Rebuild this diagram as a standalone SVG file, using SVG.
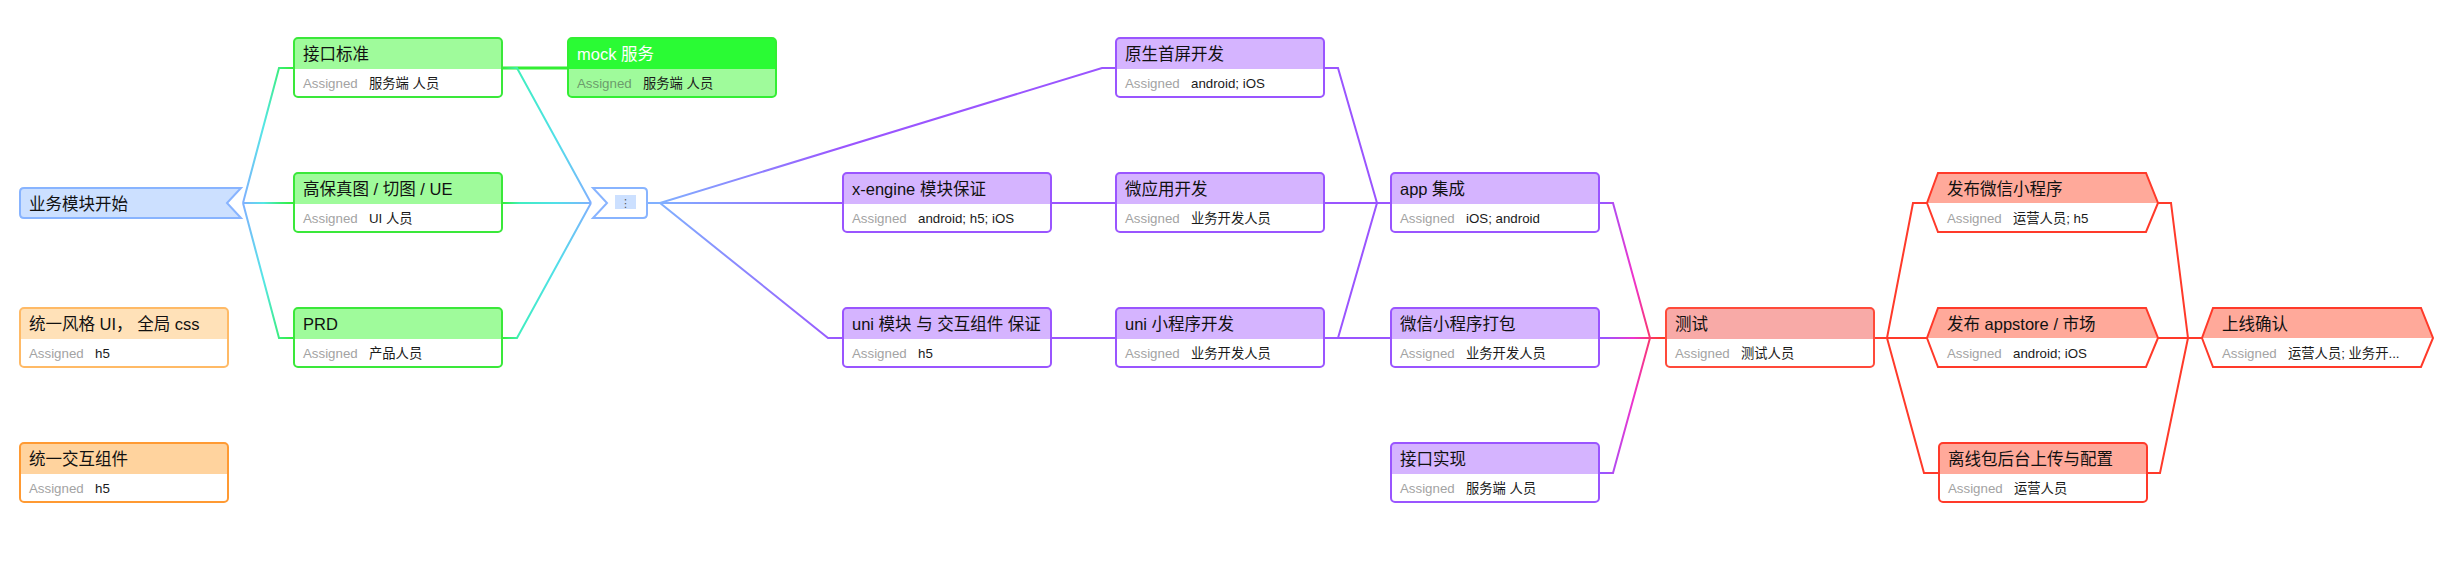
<svg xmlns="http://www.w3.org/2000/svg" xmlns:xlink="http://www.w3.org/1999/xlink" width="2464" height="574" viewBox="0 0 2464 574">
<style>
.t,.a,.v{font-family:"Liberation Sans","Noto Sans CJK SC",sans-serif}
.t{font-size:16.5px;fill:#111}
.a{font-size:13.3px;fill:#a3a3a3}
.v{font-size:13.3px;fill:#1a1a1a}
.bg{fill:#fff}
.ol{fill:none;stroke-width:2}
.green .hd{fill:#9ffb9b}.green .ol{stroke:#3ae83a}
.mock .hd{fill:#2afb34}.mock .bg{fill:#9ffb9b}.mock .ol{stroke:#33ee33}.mock .t{fill:#fff}.mock .a{fill:#6c9c6c}
.purple .hd{fill:#d5b4ff}.purple .ol{stroke:#9a55ff}
.red .hd{fill:#ffa99a}.red .ol{stroke:#ff3a2a}
.test .hd{fill:#f8aaa7}.test .ol{stroke:#ff4a3a}
.orange1 .hd{fill:#ffe1b8}.orange1 .ol{stroke:#ffba66}
.orange2 .hd{fill:#ffd39e}.orange2 .ol{stroke:#ff9a33}
.blue{fill:#cce0ff;stroke:#88b4ff;stroke-width:2}
#connectors path{fill:none;stroke-width:2}
.cp{stroke:#9a55ff}.cr{stroke:#ff3a2a}
</style>
<defs>
<rect id="box" width="208" height="59" rx="4"/>
<path id="hdr" d="M0,31V4Q0,0 4,0H204Q208,0 208,4V31Z"/>
<polygon id="hex" points="11,0 219,0 231,30 219,59 11,59 0,30"/>
<polygon id="hexhd" points="11,0 219,0 231,30 0,30"/>
<linearGradient id="gA" gradientUnits="userSpaceOnUse" x1="243" y1="0" x2="294" y2="0">
<stop offset="0" stop-color="#80b0ff"/><stop offset="0.4" stop-color="#55e6e6"/><stop offset="0.75" stop-color="#38ee70"/><stop offset="1" stop-color="#33ee33"/>
</linearGradient>
<linearGradient id="gB" gradientUnits="userSpaceOnUse" x1="502" y1="0" x2="591" y2="0">
<stop offset="0" stop-color="#33ee33"/><stop offset="0.2" stop-color="#40eec0"/><stop offset="0.6" stop-color="#50e0e8"/><stop offset="1" stop-color="#80b0ff"/>
</linearGradient>
<linearGradient id="gC" gradientUnits="userSpaceOnUse" x1="660" y1="0" x2="843" y2="0">
<stop offset="0" stop-color="#80b0ff"/><stop offset="1" stop-color="#9a55ff"/>
</linearGradient>
<linearGradient id="gD" gradientUnits="userSpaceOnUse" x1="1605" y1="0" x2="1662" y2="0">
<stop offset="0" stop-color="#9a55ff"/><stop offset="0.5" stop-color="#ee33cc"/><stop offset="1" stop-color="#ff3a2a"/>
</linearGradient>
</defs>
<rect width="2464" height="574" fill="#fff"/>

<g id="connectors">
<path d="M243,203 L279,68 H294" stroke="url(#gA)"/>
<path d="M243,203 H294" stroke="url(#gA)"/>
<path d="M243,203 L279,338 H294" stroke="url(#gA)"/>
<path d="M502,68 H568" stroke="#33ee33" style="stroke-width:3"/>
<path d="M502,68 H517 L591,203" stroke="url(#gB)"/>
<path d="M502,203 H591" stroke="url(#gB)"/>
<path d="M502,338 H517 L591,203" stroke="url(#gB)"/>
<path d="M647,203 H660 L1102,68 H1116" stroke="url(#gC)"/>
<path d="M647,203 H843" stroke="url(#gC)"/>
<path d="M647,203 H660 L828,338 H843" stroke="url(#gC)"/>
<path class="cp" d="M1050,203 H1116"/>
<path class="cp" d="M1050,338 H1116"/>
<path class="cp" d="M1324,68 H1338 L1377,203 H1391"/>
<path class="cp" d="M1324,203 H1391"/>
<path class="cp" d="M1324,338 H1338 L1377,203"/>
<path class="cp" d="M1324,338 H1391"/>
<path d="M1598,203 H1613 L1650,338 H1666" stroke="url(#gD)"/>
<path d="M1598,338 H1666" stroke="url(#gD)"/>
<path d="M1598,473 H1613 L1650,338" stroke="url(#gD)"/>
<path class="cr" d="M1873,338 H1887 L1913,203 H1927"/>
<path class="cr" d="M1873,338 H1927"/>
<path class="cr" d="M1873,338 H1887 L1924,473 H1939"/>
<path class="cr" d="M2158,203 H2171 L2188,338 H2202"/>
<path class="cr" d="M2158,338 H2202"/>
<path class="cr" d="M2146,473 H2160 L2188,338"/>
</g>

<g id="n_start">
<path class="blue" d="M24,188 H241 L227,203 L241,218 H24 Q20,218 20,214 V192 Q20,188 24,188 Z"/>
<text class="t" x="29" y="209.5">业务模块开始</text>
</g>

<g id="n_style" class="orange1" transform="translate(20,308)">
<use href="#box" class="bg"/><use href="#hdr" class="hd"/><use href="#box" class="ol"/>
<text class="t" x="9" y="22">统一风格 UI， 全局 css</text>
<text class="a" x="9" y="49.5">Assigned</text><text class="v" x="75" y="49.5">h5</text>
</g>

<g id="n_comp" class="orange2" transform="translate(20,443)">
<use href="#box" class="bg"/><use href="#hdr" class="hd"/><use href="#box" class="ol"/>
<text class="t" x="9" y="22">统一交互组件</text>
<text class="a" x="9" y="49.5">Assigned</text><text class="v" x="75" y="49.5">h5</text>
</g>

<g id="n_api_std" class="green" transform="translate(294,38)">
<use href="#box" class="bg"/><use href="#hdr" class="hd"/><use href="#box" class="ol"/>
<text class="t" x="9" y="22">接口标准</text>
<text class="a" x="9" y="49.5">Assigned</text><text class="v" x="75" y="49.5">服务端 人员</text>
</g>

<g id="n_ui" class="green" transform="translate(294,173)">
<use href="#box" class="bg"/><use href="#hdr" class="hd"/><use href="#box" class="ol"/>
<text class="t" x="9" y="22">高保真图 / 切图 / UE</text>
<text class="a" x="9" y="49.5">Assigned</text><text class="v" x="75" y="49.5">UI 人员</text>
</g>

<g id="n_prd" class="green" transform="translate(294,308)">
<use href="#box" class="bg"/><use href="#hdr" class="hd"/><use href="#box" class="ol"/>
<text class="t" x="9" y="22">PRD</text>
<text class="a" x="9" y="49.5">Assigned</text><text class="v" x="75" y="49.5">产品人员</text>
</g>

<g id="n_mock" class="mock" transform="translate(568,38)">
<use href="#box" class="bg"/><use href="#hdr" class="hd"/><use href="#box" class="ol"/>
<text class="t" x="9" y="22">mock 服务</text>
<text class="a" x="9" y="49.5">Assigned</text><text class="v" x="75" y="49.5">服务端 人员</text>
</g>

<g id="n_join">
<path d="M593,188 H643 Q647,188 647,192 V214 Q647,218 643,218 H593 L607,203 Z" fill="#fff" stroke="#88b4ff" stroke-width="2"/>
<rect x="615" y="195" width="21" height="14" fill="#cce0ff"/>
<text x="625.5" y="206.5" text-anchor="middle" font-family="DejaVu Sans, sans-serif" font-size="11" fill="#555">⋮</text>
</g>

<g id="n_xengine" class="purple" transform="translate(843,173)">
<use href="#box" class="bg"/><use href="#hdr" class="hd"/><use href="#box" class="ol"/>
<text class="t" x="9" y="22">x-engine 模块保证</text>
<text class="a" x="9" y="49.5">Assigned</text><text class="v" x="75" y="49.5">android; h5; iOS</text>
</g>

<g id="n_uni" class="purple" transform="translate(843,308)">
<use href="#box" class="bg"/><use href="#hdr" class="hd"/><use href="#box" class="ol"/>
<text class="t" x="9" y="22">uni 模块 与 交互组件 保证</text>
<text class="a" x="9" y="49.5">Assigned</text><text class="v" x="75" y="49.5">h5</text>
</g>

<g id="n_native" class="purple" transform="translate(1116,38)">
<use href="#box" class="bg"/><use href="#hdr" class="hd"/><use href="#box" class="ol"/>
<text class="t" x="9" y="22">原生首屏开发</text>
<text class="a" x="9" y="49.5">Assigned</text><text class="v" x="75" y="49.5">android; iOS</text>
</g>

<g id="n_micro" class="purple" transform="translate(1116,173)">
<use href="#box" class="bg"/><use href="#hdr" class="hd"/><use href="#box" class="ol"/>
<text class="t" x="9" y="22">微应用开发</text>
<text class="a" x="9" y="49.5">Assigned</text><text class="v" x="75" y="49.5">业务开发人员</text>
</g>

<g id="n_unimp" class="purple" transform="translate(1116,308)">
<use href="#box" class="bg"/><use href="#hdr" class="hd"/><use href="#box" class="ol"/>
<text class="t" x="9" y="22">uni 小程序开发</text>
<text class="a" x="9" y="49.5">Assigned</text><text class="v" x="75" y="49.5">业务开发人员</text>
</g>

<g id="n_app" class="purple" transform="translate(1391,173)">
<use href="#box" class="bg"/><use href="#hdr" class="hd"/><use href="#box" class="ol"/>
<text class="t" x="9" y="22">app 集成</text>
<text class="a" x="9" y="49.5">Assigned</text><text class="v" x="75" y="49.5">iOS; android</text>
</g>

<g id="n_wxpack" class="purple" transform="translate(1391,308)">
<use href="#box" class="bg"/><use href="#hdr" class="hd"/><use href="#box" class="ol"/>
<text class="t" x="9" y="22">微信小程序打包</text>
<text class="a" x="9" y="49.5">Assigned</text><text class="v" x="75" y="49.5">业务开发人员</text>
</g>

<g id="n_apiimpl" class="purple" transform="translate(1391,443)">
<use href="#box" class="bg"/><use href="#hdr" class="hd"/><use href="#box" class="ol"/>
<text class="t" x="9" y="22">接口实现</text>
<text class="a" x="9" y="49.5">Assigned</text><text class="v" x="75" y="49.5">服务端 人员</text>
</g>

<g id="n_test" class="test" transform="translate(1666,308)">
<use href="#box" class="bg"/><use href="#hdr" class="hd"/><use href="#box" class="ol"/>
<text class="t" x="9" y="22">测试</text>
<text class="a" x="9" y="49.5">Assigned</text><text class="v" x="75" y="49.5">测试人员</text>
</g>

<g id="n_pubwx" class="red" transform="translate(1927,173)">
<use href="#hex" class="bg"/><use href="#hexhd" class="hd"/><use href="#hex" class="ol"/>
<text class="t" x="20" y="22">发布微信小程序</text>
<text class="a" x="20" y="49.5">Assigned</text><text class="v" x="86" y="49.5">运营人员; h5</text>
</g>

<g id="n_pubapp" class="red" transform="translate(1927,308)">
<use href="#hex" class="bg"/><use href="#hexhd" class="hd"/><use href="#hex" class="ol"/>
<text class="t" x="20" y="22">发布 appstore / 市场</text>
<text class="a" x="20" y="49.5">Assigned</text><text class="v" x="86" y="49.5">android; iOS</text>
</g>

<g id="n_offline" class="red" transform="translate(1939,443)">
<use href="#box" class="bg"/><use href="#hdr" class="hd"/><use href="#box" class="ol"/>
<text class="t" x="9" y="22">离线包后台上传与配置</text>
<text class="a" x="9" y="49.5">Assigned</text><text class="v" x="75" y="49.5">运营人员</text>
</g>

<g id="n_online" class="red" transform="translate(2202,308)">
<use href="#hex" class="bg"/><use href="#hexhd" class="hd"/><use href="#hex" class="ol"/>
<text class="t" x="20" y="22">上线确认</text>
<text class="a" x="20" y="49.5">Assigned</text><text class="v" x="86" y="49.5">运营人员; 业务开...</text>
</g>
</svg>
